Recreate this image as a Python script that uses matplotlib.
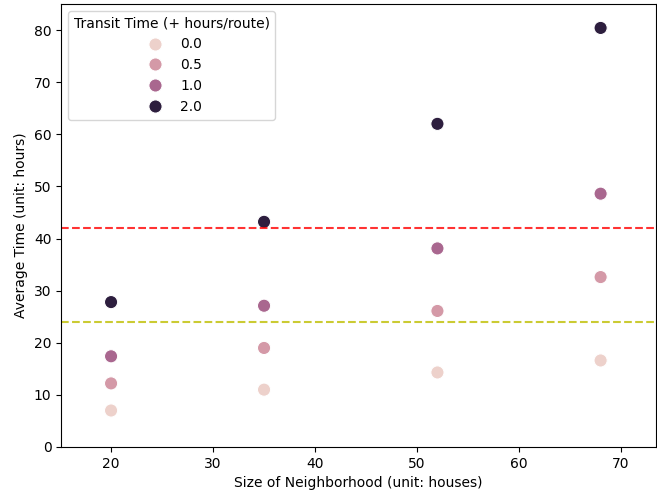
import matplotlib
matplotlib.use("Agg")
import matplotlib.pyplot as plt
import pandas as pd
import seaborn as sns

# neighborhood size (houses) and extra transit time per route (hours)
sizes = [20, 35, 52, 68]
transit = [0.0, 0.5, 1.0, 2.0]
avg_time = {
    0.0: [7.0, 11.0, 14.3, 16.6],
    0.5: [12.2, 19.0, 26.1, 32.6],
    1.0: [17.4, 27.1, 38.1, 48.6],
    2.0: [27.8, 43.2, 62.0, 80.4],
}
upper_ref = 42
lower_ref = 24

rows = []
for t in transit:
    for s, v in zip(sizes, avg_time[t]):
        rows.append({"size": s, "transit": t, "time": v})
df = pd.DataFrame(rows)

fig = plt.figure(figsize=(6.57, 4.95), dpi=100)
ax = fig.add_axes([0.093, 0.097, 0.905, 0.895])
sns.scatterplot(data=df, x="size", y="time", hue="transit", s=90, ax=ax)
ax.axhline(upper_ref, color="r", linestyle="--", alpha=0.8, linewidth=1.5)
ax.axhline(lower_ref, color="y", linestyle="--", alpha=0.8, linewidth=1.5)

ax.set_xlim(15.1, 73.4)
ax.set_ylim(0, 85)
ax.set_xlabel("Size of Neighborhood (unit: houses)")
ax.set_ylabel("Average Time (unit: hours)")

leg = ax.legend(title="Transit Time (+ hours/route)", loc="upper left")
handles = leg.legend_handles
labels = [t.get_text() for t in leg.get_texts()]
ax.legend(handles, ["%.1f" % float(l) for l in labels],
          title="Transit Time (+ hours/route)", loc="upper left")

fig.savefig("out.png", dpi=100)
